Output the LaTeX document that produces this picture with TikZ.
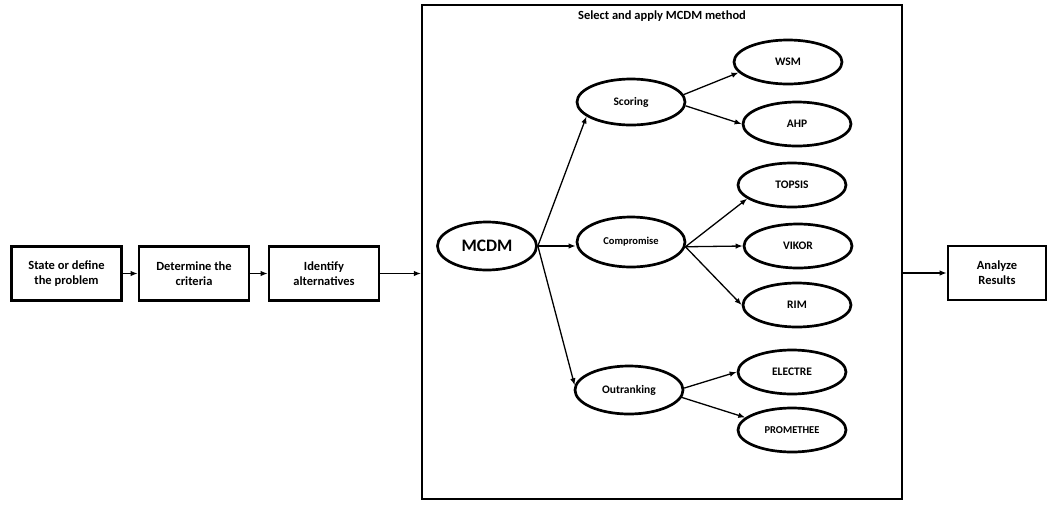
\documentclass[tikz,border=0pt]{standalone}
\usepackage{fontspec}
\setmainfont{Carlito}
\usetikzlibrary{shapes.geometric,arrows.meta}
\begin{document}
\begin{tikzpicture}[x=1pt,y=-1pt,
  stepbox/.style={draw, line width=2.7pt, minimum width=110pt, minimum height=54pt,
    inner sep=0pt, align=center, font=\bfseries\fontsize{12.5}{15}\selectfont},
  oval/.style={ellipse, draw, line width=2.7pt, inner sep=0pt, minimum width=108pt,
    minimum height=44pt, font=\bfseries\fontsize{11.5}{13}\selectfont},
  conn/.style={line width=1.3pt, -{Latex[length=7pt,width=5.5pt]}}]
\useasboundingbox (0,0) rectangle (1050,504);

% left boxes
\node[stepbox] (b1) at (66.5,273.5) {State or define\\the problem};
\node[stepbox] (b2) at (194,273.5) {Determine the\\criteria};
\node[stepbox] (b3) at (324,273.5) {Identify\\alternatives};
\node[stepbox, minimum width=98pt] (b4) at (997,273) {Analyze\\Results};

% frame
\node[draw, line width=2.2pt, minimum width=480pt, minimum height=494pt, inner sep=0pt] (frame) at (662,252) {};
\node[font=\bfseries\fontsize{12.5}{14}\selectfont] (title) at (662,16) {Select and apply MCDM method};

% ellipses
\node[oval, minimum width=99pt, minimum height=48pt, font=\bfseries\fontsize{17.5}{19}\selectfont] (mcdm) at (487,246) {MCDM};
\node[oval, minimum height=46pt] (scoring) at (631,102) {Scoring};
\node[oval, minimum height=50pt, font=\bfseries\fontsize{10.5}{12}\selectfont] (comp) at (631,242) {Compromise};
\node[oval, minimum height=48pt] (out) at (629,390) {Outranking};

\node[oval] (wsm) at (788,62) {WSM};
\node[oval] (ahp) at (797,124) {AHP};
\node[oval] (topsis) at (792,185) {TOPSIS};
\node[oval] (vikor) at (798,246) {VIKOR};
\node[oval] (rim) at (797,305) {RIM};
\node[oval] (electre) at (792,372) {ELECTRE};
\node[oval, font=\bfseries\fontsize{10.5}{12}\selectfont] (prom) at (792,430) {PROMETHEE};

% connectors
\draw[conn] (b1) -- (b2);
\draw[conn] (b2) -- (b3);
\draw[conn] (b3.east) -- (b3.east -| frame.west);
\draw[conn] (b4.west -| frame.east) -- (b4.west);

\draw[conn] (mcdm.east) -- (scoring.198);
\draw[conn] (mcdm.east) -- (mcdm.east -| comp.west);
\draw[conn] (mcdm.east) -- (out.175);

\draw[conn] (scoring.8) -- (wsm.192);
\draw[conn] (scoring.-4) -- (ahp.west);
\draw[conn] (comp.-5) -- (topsis.197);
\draw[conn] (comp.-5) -- (vikor.west);
\draw[conn] (comp.-5) -- (rim.west);
\draw[conn] (out.2) -- (electre.west);
\draw[conn] (out.-8) -- (prom.165);
\end{tikzpicture}
\end{document}
